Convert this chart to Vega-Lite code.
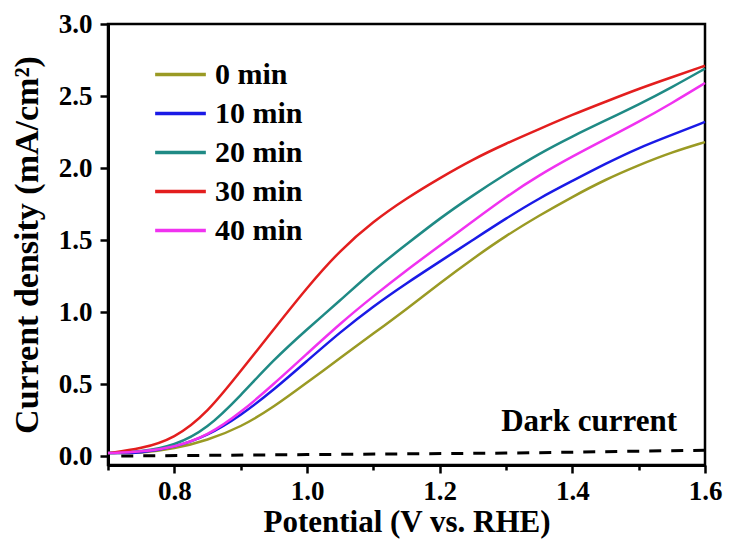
{
  "$schema": "https://vega.github.io/schema/vega-lite/v6.json",
  "width": 597,
  "height": 441,
  "autosize": "none",
  "padding": {"left": 108, "top": 24, "right": 25, "bottom": 77},
  "background": "white",
  "config": {
    "view": {"stroke": "black", "strokeWidth": 2.5},
    "font": "Liberation Serif",
    "axis": {
      "labelFont": "Liberation Serif",
      "labelFontWeight": "bold",
      "labelColor": "black",
      "titleFont": "Liberation Serif",
      "titleFontWeight": "bold",
      "titleColor": "black",
      "domainColor": "black",
      "domainWidth": 3,
      "tickColor": "black",
      "tickWidth": 2.5,
      "grid": false
    }
  },
  "datasets": {
    "curves": [
      {"t": "0 min", "v": 0.70, "j": 0.02}, {"t": "0 min", "v": 0.75, "j": 0.02}, {"t": "0 min", "v": 0.80, "j": 0.05}, {"t": "0 min", "v": 0.85, "j": 0.11}, {"t": "0 min", "v": 0.90, "j": 0.20}, {"t": "0 min", "v": 0.95, "j": 0.34}, {"t": "0 min", "v": 1.00, "j": 0.51}, {"t": "0 min", "v": 1.05, "j": 0.68}, {"t": "0 min", "v": 1.10, "j": 0.85}, {"t": "0 min", "v": 1.15, "j": 1.02}, {"t": "0 min", "v": 1.20, "j": 1.20}, {"t": "0 min", "v": 1.25, "j": 1.37}, {"t": "0 min", "v": 1.30, "j": 1.53}, {"t": "0 min", "v": 1.35, "j": 1.67}, {"t": "0 min", "v": 1.40, "j": 1.80}, {"t": "0 min", "v": 1.45, "j": 1.92}, {"t": "0 min", "v": 1.50, "j": 2.02}, {"t": "0 min", "v": 1.55, "j": 2.11}, {"t": "0 min", "v": 1.60, "j": 2.18},
      {"t": "10 min", "v": 0.70, "j": 0.02}, {"t": "10 min", "v": 0.75, "j": 0.02}, {"t": "10 min", "v": 0.80, "j": 0.06}, {"t": "10 min", "v": 0.85, "j": 0.14}, {"t": "10 min", "v": 0.90, "j": 0.28}, {"t": "10 min", "v": 0.95, "j": 0.46}, {"t": "10 min", "v": 1.00, "j": 0.66}, {"t": "10 min", "v": 1.05, "j": 0.86}, {"t": "10 min", "v": 1.10, "j": 1.04}, {"t": "10 min", "v": 1.15, "j": 1.20}, {"t": "10 min", "v": 1.20, "j": 1.35}, {"t": "10 min", "v": 1.25, "j": 1.50}, {"t": "10 min", "v": 1.30, "j": 1.65}, {"t": "10 min", "v": 1.35, "j": 1.79}, {"t": "10 min", "v": 1.40, "j": 1.91}, {"t": "10 min", "v": 1.45, "j": 2.03}, {"t": "10 min", "v": 1.50, "j": 2.14}, {"t": "10 min", "v": 1.55, "j": 2.23}, {"t": "10 min", "v": 1.60, "j": 2.32},
      {"t": "20 min", "v": 0.70, "j": 0.02}, {"t": "20 min", "v": 0.75, "j": 0.03}, {"t": "20 min", "v": 0.80, "j": 0.07}, {"t": "20 min", "v": 0.85, "j": 0.19}, {"t": "20 min", "v": 0.90, "j": 0.42}, {"t": "20 min", "v": 0.95, "j": 0.67}, {"t": "20 min", "v": 1.00, "j": 0.88}, {"t": "20 min", "v": 1.05, "j": 1.08}, {"t": "20 min", "v": 1.10, "j": 1.29}, {"t": "20 min", "v": 1.15, "j": 1.47}, {"t": "20 min", "v": 1.20, "j": 1.65}, {"t": "20 min", "v": 1.25, "j": 1.81}, {"t": "20 min", "v": 1.30, "j": 1.96}, {"t": "20 min", "v": 1.35, "j": 2.10}, {"t": "20 min", "v": 1.40, "j": 2.22}, {"t": "20 min", "v": 1.45, "j": 2.33}, {"t": "20 min", "v": 1.50, "j": 2.44}, {"t": "20 min", "v": 1.55, "j": 2.56}, {"t": "20 min", "v": 1.60, "j": 2.69},
      {"t": "30 min", "v": 0.70, "j": 0.02}, {"t": "30 min", "v": 0.75, "j": 0.05}, {"t": "30 min", "v": 0.80, "j": 0.12}, {"t": "30 min", "v": 0.85, "j": 0.30}, {"t": "30 min", "v": 0.90, "j": 0.59}, {"t": "30 min", "v": 0.95, "j": 0.88}, {"t": "30 min", "v": 1.00, "j": 1.17}, {"t": "30 min", "v": 1.05, "j": 1.43}, {"t": "30 min", "v": 1.10, "j": 1.63}, {"t": "30 min", "v": 1.15, "j": 1.79}, {"t": "30 min", "v": 1.20, "j": 1.93}, {"t": "30 min", "v": 1.25, "j": 2.06}, {"t": "30 min", "v": 1.30, "j": 2.17}, {"t": "30 min", "v": 1.35, "j": 2.27}, {"t": "30 min", "v": 1.40, "j": 2.37}, {"t": "30 min", "v": 1.45, "j": 2.46}, {"t": "30 min", "v": 1.50, "j": 2.55}, {"t": "30 min", "v": 1.55, "j": 2.63}, {"t": "30 min", "v": 1.60, "j": 2.71},
      {"t": "40 min", "v": 0.70, "j": 0.02}, {"t": "40 min", "v": 0.75, "j": 0.03}, {"t": "40 min", "v": 0.80, "j": 0.06}, {"t": "40 min", "v": 0.85, "j": 0.14}, {"t": "40 min", "v": 0.90, "j": 0.30}, {"t": "40 min", "v": 0.95, "j": 0.50}, {"t": "40 min", "v": 1.00, "j": 0.71}, {"t": "40 min", "v": 1.05, "j": 0.92}, {"t": "40 min", "v": 1.10, "j": 1.11}, {"t": "40 min", "v": 1.15, "j": 1.29}, {"t": "40 min", "v": 1.20, "j": 1.46}, {"t": "40 min", "v": 1.25, "j": 1.63}, {"t": "40 min", "v": 1.30, "j": 1.80}, {"t": "40 min", "v": 1.35, "j": 1.95}, {"t": "40 min", "v": 1.40, "j": 2.08}, {"t": "40 min", "v": 1.45, "j": 2.20}, {"t": "40 min", "v": 1.50, "j": 2.32}, {"t": "40 min", "v": 1.55, "j": 2.45}, {"t": "40 min", "v": 1.60, "j": 2.59}
    ],
    "dark": [
      {"v": 0.72, "j": 0.0}, {"v": 1.0, "j": 0.01}, {"v": 1.3, "j": 0.02}, {"v": 1.6, "j": 0.04}
    ],
    "note": [
      {"v": 1.558, "j": 0.236, "label": "Dark current"}
    ]
  },
  "layer": [
    {
      "data": {"name": "dark"},
      "mark": {"type": "line", "color": "black", "strokeWidth": 3, "strokeDash": [12, 10]},
      "encoding": {
        "x": {"field": "v", "type": "quantitative"},
        "y": {"field": "j", "type": "quantitative"}
      }
    },
    {
      "data": {"name": "curves"},
      "mark": {"type": "line", "strokeWidth": 2.5, "interpolate": "basis"},
      "encoding": {
        "x": {
          "field": "v", "type": "quantitative",
          "scale": {"domain": [0.7, 1.6], "nice": false, "zero": false},
          "axis": {
            "title": "Potential (V vs. RHE)",
            "titleFontSize": 31,
            "titlePadding": 3,
            "values": [0.7, 0.8, 0.9, 1.0, 1.1, 1.2, 1.3, 1.4, 1.5, 1.6],
            "labelExpr": "round(datum.value*10)%2==0 ? format(datum.value,'.1f') : ''",
            "labelFontSize": 27,
            "labelPadding": 5,
            "labelFlush": false,
            "labelOverlap": false,
            "tickSize": {"condition": {"test": "round(datum.value*10)%2==0", "value": 8}, "value": 5}
          }
        },
        "y": {
          "field": "j", "type": "quantitative",
          "scale": {"domain": [-0.0625, 3.0], "nice": false, "zero": false},
          "axis": {
            "title": "Current density (mA/cm²)",
            "titleFontSize": 34,
            "titlePadding": 14,
            "values": [0, 0.25, 0.5, 0.75, 1.0, 1.25, 1.5, 1.75, 2.0, 2.25, 2.5, 2.75, 3.0],
            "labelExpr": "round(datum.value*4)%2==0 ? format(datum.value,'.1f') : ''",
            "labelFontSize": 27,
            "labelPadding": 8,
            "labelOverlap": false,
            "labelFlush": false,
            "tickSize": {"condition": {"test": "round(datum.value*4)%2==0", "value": 8}, "value": 5}
          }
        },
        "color": {
          "field": "t", "type": "nominal",
          "scale": {
            "domain": ["0 min", "10 min", "20 min", "30 min", "40 min"],
            "range": ["#9a9a24", "#1a1ae6", "#1f8a85", "#e31e1e", "#f032f0"]
          },
          "legend": {
            "title": null,
            "orient": "none",
            "legendX": 51,
            "legendY": 29,
            "padding": 0,
            "symbolType": "M-1.3,0H1.3",
            "symbolSize": 1521,
            "symbolStrokeWidth": 3.5,
            "labelFont": "Liberation Serif",
            "labelFontSize": 30,
            "labelFontWeight": "bold",
            "labelColor": "black",
            "labelOffset": 13,
            "rowPadding": 2
          }
        }
      }
    },
    {
      "data": {"name": "note"},
      "mark": {"type": "text", "align": "right", "baseline": "middle", "font": "Liberation Serif", "fontWeight": "bold", "fontSize": 31, "color": "black"},
      "encoding": {
        "x": {"field": "v", "type": "quantitative"},
        "y": {"field": "j", "type": "quantitative"},
        "text": {"field": "label"}
      }
    }
  ]
}
